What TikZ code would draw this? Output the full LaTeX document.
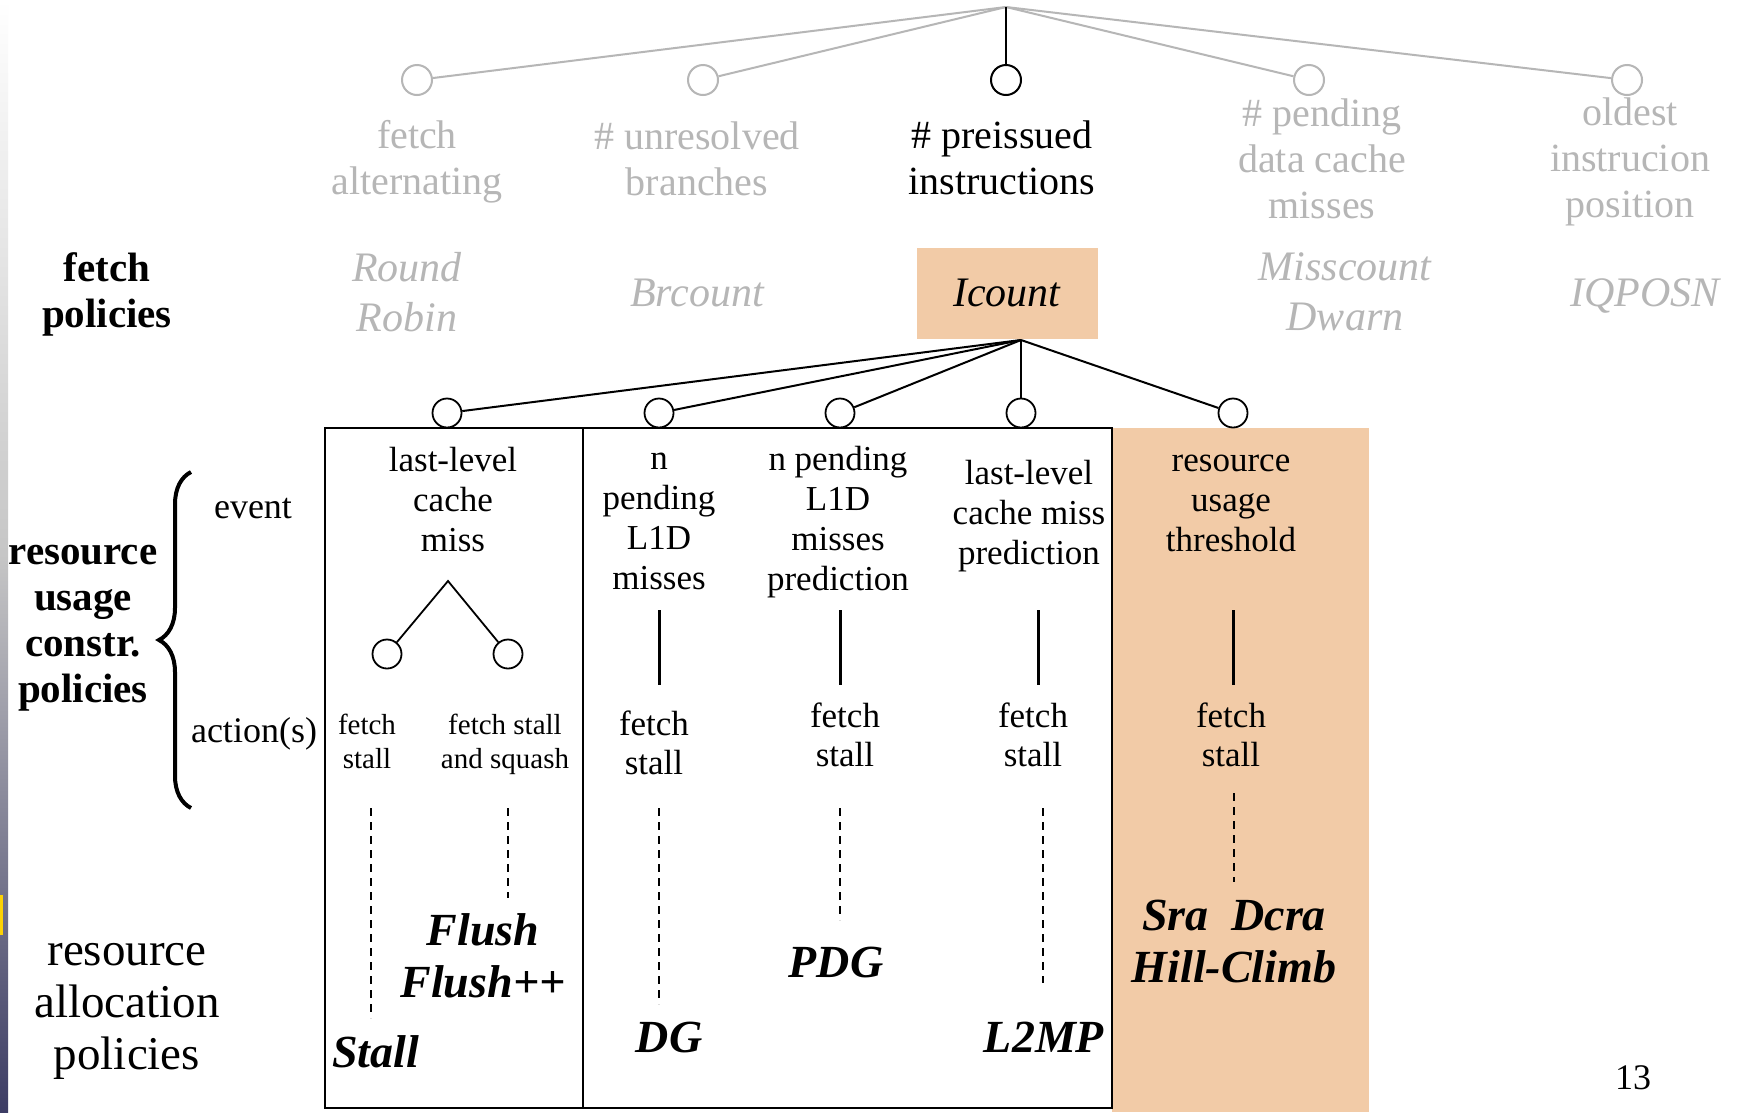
\documentclass[tikz,border=0pt]{standalone}
\usepackage{fontspec}
\setmainfont{Liberation Serif}
\usetikzlibrary{decorations.pathreplacing}
\definecolor{orng}{RGB}{242,203,167}
\definecolor{lgray}{RGB}{182,182,182}
\definecolor{navy}{RGB}{60,60,100}
\newcommand\fsz[2]{\fontsize{#1}{#2}\selectfont}
\begin{document}
\begin{tikzpicture}[x=1pt,y=-1pt,
  gcirc/.style={circle,draw=lgray,line width=2pt,minimum size=30pt,inner sep=0pt,fill=white},
  bcirc/.style={circle,draw=black,line width=2pt,minimum size=30pt,inner sep=0pt,fill=white},
  scirc/.style={circle,draw=black,line width=1.8pt,minimum size=29pt,inner sep=0pt,fill=white},
  gline/.style={draw=lgray,line width=2pt},
  bline/.style={draw=black,line width=2pt},
  vline/.style={draw=black,line width=3pt},
  dline/.style={draw=black,line width=1.4pt,dash pattern=on 8pt off 6pt},
  toptxt/.style={align=center,text=lgray,font=\fsz{40}{46},inner sep=0pt},
  poltxt/.style={align=center,text=lgray,font=\fsz{42}{50}\itshape,inner sep=0pt},
  boldlbl/.style={align=center,font=\fsz{41}{46}\bfseries,inner sep=0pt},
  boxtxt/.style={align=center,font=\fsz{35}{40},inner sep=0pt},
  smalltxt/.style={align=center,font=\fsz{29}{34},inner sep=0pt},
  acttxt/.style={align=center,font=\fsz{35}{39},inner sep=0pt},
  rap/.style={align=center,font=\fsz{46}{52}\bfseries\itshape,inner sep=0pt}
]
\useasboundingbox (0,0) rectangle (1742,1112);
\fill[white] (0,0) rectangle (1742,1112);
% left slide strip
\shade[top color=white,bottom color=navy,middle color=gray!45] (0,0) rectangle (8,1112);
\fill[yellow!70!orange] (0,895) rectangle (3,935);

% ===== top tree =====
\coordinate (root) at (1006,7);
\node[gcirc] (t1) at (417,80) {};
\node[gcirc] (t2) at (703,80) {};
\node[bcirc] (t3) at (1006,80) {};
\node[gcirc] (t4) at (1309,80) {};
\node[gcirc] (t5) at (1627,80) {};
\draw[gline] (root) -- (t1);
\draw[gline] (root) -- (t2);
\draw[gline] (root) -- (t4);
\draw[gline] (root) -- (t5);
\draw[bline] (root) -- (t3);

\node[toptxt] (a1) at (417,162) {fetch\\alternating};
\node[toptxt] (a2) at (697,159) {\# unresolved\\branches};
\node[toptxt,text=black] (a3) at (1002,158) {\# preissued\\instructions};
\node[toptxt] (a4) at (1322,159) {\# pending\\data cache\\misses};
\node[toptxt] (a5) at (1630,162) {oldest\\instrucion\\position};

% ===== fetch policies =====
\node[boldlbl] (fp) at (107,294) {fetch\\policies};
\node[poltxt] (p1) at (407,292) {Round\\Robin};
\node[poltxt] (p2) at (697,293) {Brcount};
\node[fill=orng,minimum width=181pt,minimum height=91pt,inner sep=0pt,font=\fsz{42}{50}\itshape] (icount) at (1007,293) {Icount};
\node[poltxt] (p4) at (1345,292) {Misscount\\Dwarn};
\node[poltxt] (p5) at (1645,296) {IQPOSN};

% ===== resource usage box =====
\fill[orng] (1112,428) rectangle (1369,1112);
\draw[line width=2pt] (325,428) rectangle (1112,1108);
\draw[line width=2pt] (583,428) -- (583,1108);

\coordinate (ic) at (1021,340);
\node[scirc] (c1) at (447,413) {};
\node[scirc] (c2) at (659,413) {};
\node[scirc] (c3) at (840,413) {};
\node[scirc] (c4) at (1021,413) {};
\node[scirc] (c5) at (1233,413) {};
\foreach \c in {c1,c2,c3,c4,c5} \draw[bline] (ic) -- (\c);

% left labels
\node[boldlbl] (rucp) at (83,628) {resource\\usage\\constr.\\policies};
\draw[line width=4pt,decorate,decoration={brace,amplitude=32pt}] (191,808) -- (191,472);
\node[font=\fsz{36}{40},inner sep=0pt] (ev) at (253,509) {event};
\node[font=\fsz{36}{40},inner sep=0pt] (act) at (254,734) {action(s)};
\node[align=center,font=\fsz{47}{52},inner sep=0pt] (rap) at (127,1011) {resource\\allocation\\policies};

% column 1
\node[boxtxt] (e1) at (453,500) {last-level\\cache\\miss};
\coordinate (apex) at (448,581);
\node[scirc] (s1) at (387,654) {};
\node[scirc] (s2) at (508,654) {};
\draw[line width=1.8pt] (s1) -- (apex) -- (s2);
\node[smalltxt] (f1a) at (367,741) {fetch\\stall};
\node[smalltxt] (f1b) at (505,744) {fetch stall\\and squash};
\coordinate (d1at) at (371,808); \coordinate (d1ab) at (371,1018);
\coordinate (d1bt) at (508,808); \coordinate (d1bb) at (508,898);
\draw[dline] (d1at) -- (d1ab);
\draw[dline] (d1bt) -- (d1bb);
\node[rap] (flush) at (483,956) {Flush\\Flush++};
\node[rap,anchor=west] (stall) at (332,1052) {Stall};

% column 2
\node[boxtxt] (e2) at (659,521) {n\\pending\\L1D\\misses};
\coordinate (v2t) at (659,610); \coordinate (v2b) at (659,685);
\draw[vline] (v2t) -- (v2b);
\node[acttxt] (f2) at (654,743) {fetch\\stall};
\coordinate (d2t) at (659,808); \coordinate (d2b) at (659,1004);
\draw[dline] (d2t) -- (d2b);
\node[rap] (dg) at (669,1037) {DG};

% column 3
\node[boxtxt] (e3) at (838,522) {n pending\\L1D\\misses\\prediction};
\coordinate (v3t) at (840,610); \coordinate (v3b) at (840,685);
\draw[vline] (v3t) -- (v3b);
\node[acttxt] (f3) at (845,735) {fetch\\stall};
\coordinate (d3t) at (840,808); \coordinate (d3b) at (840,920);
\draw[dline] (d3t) -- (d3b);
\node[rap] (pdg) at (836,962) {PDG};

% column 4
\node[boxtxt] (e4) at (1029,516) {last-level\\cache miss\\prediction};
\coordinate (v4t) at (1038,610); \coordinate (v4b) at (1038,685);
\draw[vline] (v4t) -- (v4b);
\node[acttxt] (f4) at (1033,735) {fetch\\stall};
\coordinate (d4t) at (1043,808); \coordinate (d4b) at (1043,983);
\draw[dline] (d4t) -- (d4b);
\node[rap] (l2mp) at (1044,1037) {L2MP};

% column 5
\node[boxtxt] (e5) at (1231,503) {resource\\usage\\threshold};
\coordinate (v5t) at (1233,610); \coordinate (v5b) at (1233,685);
\draw[vline] (v5t) -- (v5b);
\node[acttxt] (f5) at (1231,735) {fetch\\stall};
\coordinate (d5t) at (1234,793); \coordinate (d5b) at (1234,882);
\draw[dline] (d5t) -- (d5b);
\node[rap] (sra) at (1234,942) {Sra\ \ Dcra\\Hill-Climb};

% page number
\node[font=\fsz{36}{40},inner sep=0pt] (pg) at (1633,1078) {13};
\end{tikzpicture}
\end{document}
